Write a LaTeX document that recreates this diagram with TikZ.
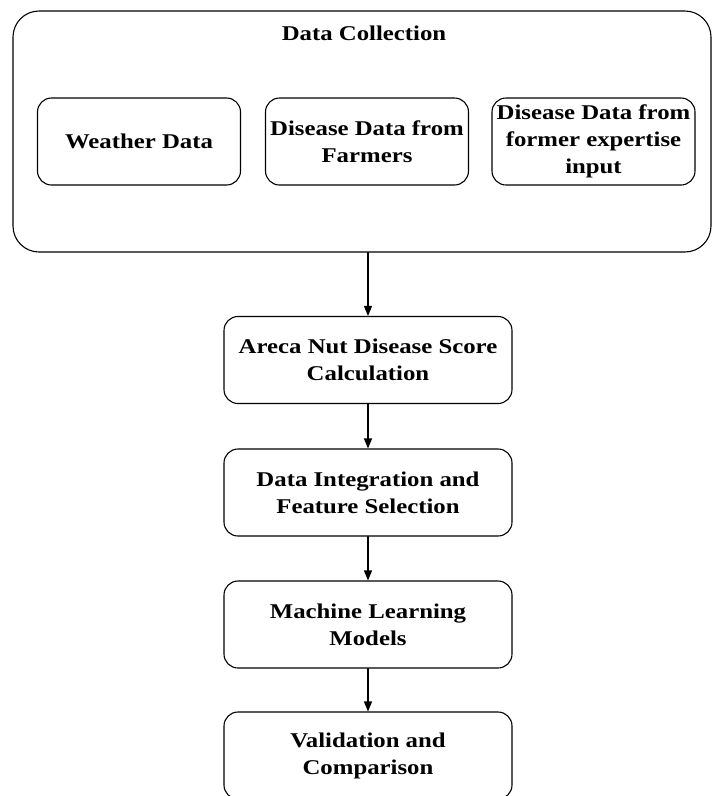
\documentclass[tikz,border=0pt]{standalone}
\usepackage{fontspec}
\setmainfont{Liberation Serif}[FakeStretch=1.18]
\usetikzlibrary{arrows.meta}

\tikzset{
	stage/.style={draw, rounded corners=14pt, line width=1.1pt,
		minimum width=288pt, minimum height=87pt, inner sep=0pt,
		align=center, font=\bfseries\fontsize{21}{27}\selectfont},
	source/.style={stage, minimum width=203pt},
	flow/.style={-{Triangle[length=10pt,width=8pt]}, line width=1.1pt},
}

\begin{document}
\begin{tikzpicture}[x=1pt, y=-1pt, line cap=round]

			% constants
			\pgfmathsetmacro{\colx}{368};
			\pgfmathsetmacro{\rowy}{141.5};

			\useasboundingbox (0,0) rectangle (713,796);

			% data collection
			\node[stage, rounded corners=26pt, minimum width=698pt,
				minimum height=241pt] (collect) at (362,131.5) {};
			\node[font=\bfseries\fontsize{21}{27}\selectfont]
				(title) at (364,33) {Data Collection};

			\node[source] (weather) at (139,\rowy) {Weather Data};
			\node[source] (farmers) at (367,\rowy)
				{Disease Data from\\Farmers};
			\node[source] (expert) at (593.5,\rowy)
				{Disease Data from\\former expertise\\input};

			% pipeline
			\node[stage] (score) at (\colx,360)
				{Areca Nut Disease Score\\Calculation};
			\node[stage] (merge) at (\colx,492.5)
				{Data Integration and\\Feature Selection};
			\node[stage] (models) at (\colx,624.5)
				{Machine Learning\\Models};
			\node[stage] (valid) at (\colx,755.5)
				{Validation and\\Comparison};

			% arrows
			\draw[flow] (collect.south -| score) -- (score);
			\draw[flow] (score) -- (merge);
			\draw[flow] (merge) -- (models);
			\draw[flow] (models) -- (valid);

\end{tikzpicture}
\end{document}
